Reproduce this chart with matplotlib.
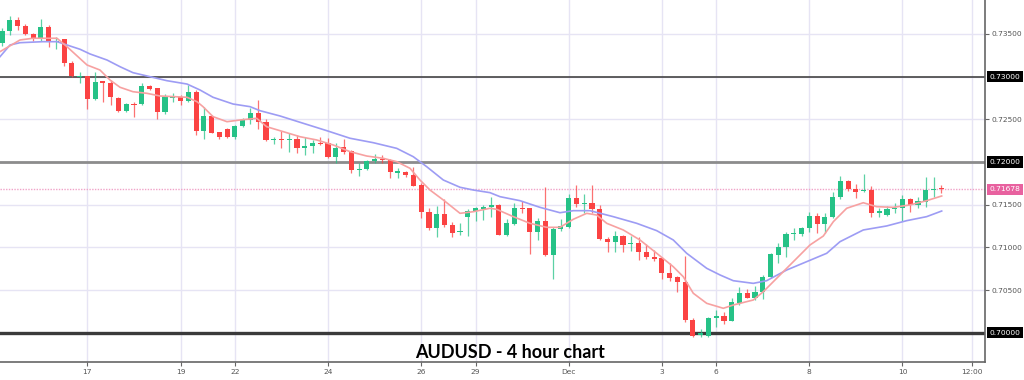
import matplotlib
matplotlib.use("Agg")
import matplotlib.pyplot as plt
import matplotlib.transforms as mtransforms
import numpy as np

# --- données (bougies 4h AUDUSD) ---
opens = [
    0.73389, 0.73537, 0.73662, 0.73592, 0.73498, 0.73448, 0.73583, 0.73408, 0.73436, 0.73162,
    0.72994, 0.73006, 0.72733, 0.72944, 0.72921, 0.72745, 0.72596, 0.72670, 0.72675, 0.72889,
    0.72862, 0.72588, 0.72745, 0.72757, 0.72717, 0.72819, 0.72365, 0.72538, 0.72350, 0.72389,
    0.72288, 0.72421, 0.72491, 0.72569, 0.72471, 0.72257, 0.72272, 0.72260, 0.72264, 0.72166,
    0.72186, 0.72225, 0.72218, 0.72054, 0.72171, 0.72131, 0.71905, 0.71913, 0.72007, 0.72034,
    0.72022, 0.71874, 0.71878, 0.71850, 0.71726, 0.71417, 0.71223, 0.71390, 0.71261, 0.71176,
    0.71351, 0.71425, 0.71453, 0.71476, 0.71492, 0.71144, 0.71273, 0.71457, 0.71457, 0.71183,
    0.71308, 0.70910, 0.71210, 0.71242, 0.71574, 0.71511, 0.71522, 0.71445, 0.71098, 0.71066,
    0.71136, 0.71039, 0.71054, 0.70949, 0.70890, 0.70871, 0.70703, 0.70649, 0.70597, 0.70149,
    0.69973, 0.69965, 0.70176, 0.70196, 0.70141, 0.70352, 0.70461, 0.70410, 0.70480, 0.70649,
    0.70914, 0.71007, 0.71152, 0.71156, 0.71222, 0.71367, 0.71273, 0.71351, 0.71586, 0.71776,
    0.71686, 0.71656, 0.71671, 0.71405, 0.71378, 0.71445, 0.71457, 0.71562, 0.71496, 0.71534,
    0.71671, 0.71679,
]
closes = [
    0.73537, 0.73662, 0.73592, 0.73498, 0.73448, 0.73583, 0.73408, 0.73419, 0.73162, 0.73006,
    0.73003, 0.72733, 0.72936, 0.72921, 0.72757, 0.72596, 0.72675, 0.72663, 0.72889, 0.72854,
    0.72588, 0.72757, 0.72757, 0.72717, 0.72819, 0.72365, 0.72538, 0.72342, 0.72288, 0.72288,
    0.72421, 0.72491, 0.72569, 0.72464, 0.72257, 0.72272, 0.72260, 0.72268, 0.72166, 0.72186,
    0.72225, 0.72210, 0.72054, 0.72166, 0.72120, 0.71905, 0.71921, 0.72011, 0.72038, 0.72022,
    0.71882, 0.71890, 0.71847, 0.71721, 0.71417, 0.71223, 0.71390, 0.71261, 0.71171, 0.71195,
    0.71425, 0.71457, 0.71472, 0.71496, 0.71144, 0.71281, 0.71457, 0.71445, 0.71183, 0.71312,
    0.70910, 0.71214, 0.71250, 0.71574, 0.71504, 0.71522, 0.71445, 0.71094, 0.71066, 0.71136,
    0.71027, 0.71054, 0.70949, 0.70883, 0.70860, 0.70696, 0.70637, 0.70597, 0.70149, 0.69965,
    0.69993, 0.70169, 0.70199, 0.70141, 0.70363, 0.70461, 0.70410, 0.70480, 0.70649, 0.70918,
    0.71007, 0.71156, 0.71164, 0.71222, 0.71367, 0.71273, 0.71351, 0.71593, 0.71776, 0.71679,
    0.71651, 0.71671, 0.71405, 0.71429, 0.71445, 0.71460, 0.71562, 0.71496, 0.71546, 0.71671,
    0.71679, 0.71678,
]
highs = [
    0.73568, 0.73709, 0.73700, 0.73615, 0.73505, 0.73674, 0.73600, 0.73459, 0.73440, 0.73185,
    0.73049, 0.73010, 0.73049, 0.72951, 0.72959, 0.72764, 0.72686, 0.72705, 0.72928, 0.72901,
    0.72869, 0.72795, 0.72803, 0.72787, 0.72901, 0.72842, 0.72647, 0.72549, 0.72354, 0.72397,
    0.72432, 0.72514, 0.72628, 0.72725, 0.72499, 0.72295, 0.72362, 0.72335, 0.72315, 0.72295,
    0.72257, 0.72295, 0.72277, 0.72218, 0.72272, 0.72139, 0.71984, 0.72022, 0.72093, 0.72081,
    0.72034, 0.71925, 0.71894, 0.71944, 0.71750, 0.71457, 0.71484, 0.71562, 0.71300, 0.71281,
    0.71445, 0.71476, 0.71492, 0.71586, 0.71504, 0.71328, 0.71515, 0.71546, 0.71464, 0.71340,
    0.71703, 0.71241, 0.71328, 0.71624, 0.71732, 0.71624, 0.71732, 0.71496, 0.71124, 0.71195,
    0.71144, 0.71132, 0.71124, 0.71039, 0.70968, 0.70883, 0.70820, 0.70664, 0.70898, 0.70169,
    0.70040, 0.70187, 0.70266, 0.70246, 0.70403, 0.70539, 0.70508, 0.70547, 0.70676, 0.70930,
    0.71047, 0.71183, 0.71222, 0.71241, 0.71417, 0.71398, 0.71406, 0.71651, 0.71835, 0.71788,
    0.71741, 0.71858, 0.71718, 0.71457, 0.71484, 0.71515, 0.71613, 0.71574, 0.71586, 0.71820,
    0.71820, 0.71729,
]
lows = [
    0.73357, 0.73486, 0.73545, 0.73492, 0.73419, 0.73419, 0.73349, 0.73319, 0.73123, 0.73000,
    0.72928, 0.72616, 0.72728, 0.72705, 0.72666, 0.72590, 0.72588, 0.72522, 0.72670, 0.72842,
    0.72499, 0.72561, 0.72705, 0.72670, 0.72705, 0.72315, 0.72265, 0.72342, 0.72272, 0.72280,
    0.72272, 0.72413, 0.72444, 0.72385, 0.72249, 0.72210, 0.72166, 0.72120, 0.72108, 0.72081,
    0.72101, 0.72198, 0.72042, 0.71991, 0.72093, 0.71867, 0.71835, 0.71905, 0.71991, 0.71984,
    0.71808, 0.71808, 0.71827, 0.71721, 0.71340, 0.71203, 0.71124, 0.71234, 0.71124, 0.71144,
    0.71132, 0.71312, 0.71320, 0.71359, 0.71140, 0.71136, 0.71261, 0.71398, 0.70922, 0.71086,
    0.70898, 0.70625, 0.71194, 0.71222, 0.71476, 0.71398, 0.71398, 0.71086, 0.70949, 0.70949,
    0.70949, 0.70960, 0.70852, 0.70860, 0.70843, 0.70625, 0.70609, 0.70480, 0.70129, 0.69953,
    0.69953, 0.69953, 0.70070, 0.70102, 0.70137, 0.70325, 0.70403, 0.70383, 0.70391, 0.70637,
    0.70820, 0.70883, 0.71086, 0.71132, 0.71183, 0.71171, 0.71171, 0.71340, 0.71562, 0.71663,
    0.71574, 0.71648, 0.71359, 0.71359, 0.71367, 0.71406, 0.71312, 0.71417, 0.71457, 0.71476,
    0.71593, 0.71640,
]

# moyennes mobiles (position en bougies, valeur)
ma_fast_x = [-0.26, 2.32, 3.99, 7.08, 8.37, 10.95, 12.62, 13.91, 15.2, 16.87, 18.68, 20.35,
             23.83, 25.12, 25.89, 27.18, 28.98, 30.66, 32.81, 34.1, 36.24, 38.39, 40.54,
             42.68, 44.83, 46.98, 49.12, 50.84, 52.56, 53.84, 55.13, 56.85, 59.0, 60.71,
             62.86, 63.72, 65.86, 68.01, 70.16, 71.88, 73.59, 75.32, 76.61, 77.9, 80.03,
             82.18, 84.34, 86.47, 87.76, 89.05, 90.78, 92.92, 94.2, 96.78, 98.07, 100.22,
             102.37, 104.08, 105.8, 107.09, 108.81, 110.95, 112.67, 114.81, 116.96, 119.11,
             121.05]
ma_fast_y = [0.73291, 0.73428, 0.73448, 0.73448, 0.73349, 0.73135, 0.73076, 0.72959, 0.72874,
             0.72822, 0.72803, 0.72772, 0.72757, 0.72705, 0.72647, 0.72530, 0.72471, 0.72491,
             0.72511, 0.72412, 0.72354, 0.72295, 0.72257, 0.72198, 0.72120, 0.72069, 0.72042,
             0.72003, 0.71925, 0.71788, 0.71671, 0.71554, 0.71398, 0.71417, 0.71457, 0.71445,
             0.71359, 0.71281, 0.71234, 0.71234, 0.71328, 0.71398, 0.71378, 0.71281, 0.71203,
             0.71086, 0.70930, 0.70773, 0.70656, 0.70462, 0.70344, 0.70286, 0.70324, 0.70383,
             0.70480, 0.70676, 0.70871, 0.71027, 0.71132, 0.71300, 0.71457, 0.71522, 0.71476,
             0.71468, 0.71496, 0.71546, 0.71601]
ma_slow_x = [-0.26, 1.03, 2.32, 5.28, 7.08, 8.37, 10.05, 11.34, 13.53, 15.2, 16.87, 19.06,
             21.25, 23.83, 25.51, 27.18, 29.76, 31.95, 33.23, 35.81, 38.81, 41.83, 44.83,
             47.83, 50.84, 52.98, 54.71, 56.85, 59.0, 60.71, 62.86, 64.15, 66.73, 69.3,
             71.88, 73.59, 75.74, 78.74, 81.76, 84.34, 86.47, 88.2, 90.78, 92.5, 94.2,
             96.78, 98.5, 101.08, 103.66, 106.24, 107.95, 110.95, 113.96, 116.54, 119.11,
             121.05]
ma_slow_y = [0.73232, 0.73369, 0.73396, 0.73408, 0.73408, 0.73369, 0.73319, 0.73264, 0.73193,
             0.73115, 0.73045, 0.72998, 0.72951, 0.72912, 0.72842, 0.72757, 0.72678, 0.72647,
             0.72600, 0.72538, 0.72452, 0.72366, 0.72277, 0.72225, 0.72159, 0.72061, 0.71944,
             0.71788, 0.71703, 0.71671, 0.71640, 0.71593, 0.71546, 0.71468, 0.71405, 0.71429,
             0.71429, 0.71359, 0.71281, 0.71195, 0.71086, 0.70930, 0.70754, 0.70676, 0.70609,
             0.70578, 0.70609, 0.70734, 0.70832, 0.70930, 0.71066, 0.71203, 0.71250, 0.71312,
             0.71359, 0.71425]

tick_pos = [11, 23, 30, 42, 54, 61, 73, 85, 92, 104, 116, 125]
tick_labels = ["17", "19", "22", "24", "26", "29", "Dec", "3", "6", "8", "10", "12:00"]
grid_levels = [0.700, 0.705, 0.710, 0.715, 0.720, 0.725, 0.730, 0.735]
plain_levels = [0.705, 0.710, 0.715, 0.725, 0.735]
key_levels = [0.700, 0.720, 0.730]
last_price = 0.71678

GREEN = "#26c287"
RED = "#fb4343"

fig = plt.figure(figsize=(10.24, 3.8), dpi=100)
ax = fig.add_axes([0.0, 1 - 362 / 380, 985 / 1024, 362 / 380])

o = np.array(opens)
c = np.array(closes)
h = np.array(highs)
l = np.array(lows)
x = np.arange(len(o))
up = c >= o
cols = np.where(up, GREEN, RED)

# grille
for lv in grid_levels:
    ax.axhline(lv, color="#e6e4f4", lw=1, zorder=0)
for tp in tick_pos:
    ax.axvline(tp, color="#e6e4f4", lw=1, zorder=0)

# niveaux horizontaux
ax.axhline(0.730, color="#444444", lw=1.2, zorder=2)
ax.axhline(0.720, color="#8c8c8c", lw=2.0, zorder=2)
ax.axhline(0.700, color="#3a3a3a", lw=2.4, zorder=2)
ax.axhline(last_price, color="#f0a3c8", lw=1.0, ls=(0, (1, 1)), zorder=2)

# bougies
ax.vlines(x, l, h, colors=cols, lw=0.9, alpha=0.75, zorder=3)
body_lo = np.minimum(o, c)
body_h = np.maximum(np.abs(c - o), 0.00012)
ax.bar(x, body_h, bottom=body_lo, width=0.66, color=cols, linewidth=0, zorder=3)

# moyennes mobiles
ax.plot(ma_slow_x, ma_slow_y, color="#9d9cf4", lw=1.2, zorder=4)
ax.plot(ma_fast_x, ma_fast_y, color="#f7a1a1", lw=1.2, zorder=4)

ax.set_xlim(-0.26, 126.63)
ax.set_ylim(0.69657, 0.73896)

for side in ["top", "left"]:
    ax.spines[side].set_visible(False)
for side in ["bottom", "right"]:
    ax.spines[side].set_color("#666666")
    ax.spines[side].set_linewidth(1.2)

ax.set_xticks(tick_pos)
ax.set_xticklabels(tick_labels)
ax.tick_params(axis="x", length=3, width=0.8, color="#666666", labelsize=5.4,
               labelcolor="#555555", pad=2)

ax.yaxis.tick_right()
ax.set_yticks(plain_levels)
ax.set_yticklabels([f"{v:.5f}" for v in plain_levels])
ax.tick_params(axis="y", length=3, width=0.8, color="#666666", labelsize=5.4,
               labelcolor="#555555", pad=1.5)

# étiquettes encadrées à droite
trans = mtransforms.blended_transform_factory(ax.transAxes, ax.transData)
for lv in key_levels:
    ax.text(1.005, lv, f"{lv:.5f}", transform=trans, ha="left", va="center",
            fontsize=5.4, color="white", clip_on=False,
            bbox=dict(boxstyle="square,pad=0.35", fc="black", ec="none"))
ax.text(1.005, last_price, f"{last_price:.5f}", transform=trans, ha="left", va="center",
        fontsize=5.4, color="white", clip_on=False,
        bbox=dict(boxstyle="square,pad=0.35", fc="#e8619f", ec="none"))

ax.text(0.518, 0.0102, "AUDUSD - 4 hour chart", transform=ax.transAxes,
        ha="center", va="baseline", fontsize=13, fontweight="bold",
        family=["Lato", "DejaVu Sans"], color="black", zorder=5)

fig.savefig("out.png", dpi=100)
